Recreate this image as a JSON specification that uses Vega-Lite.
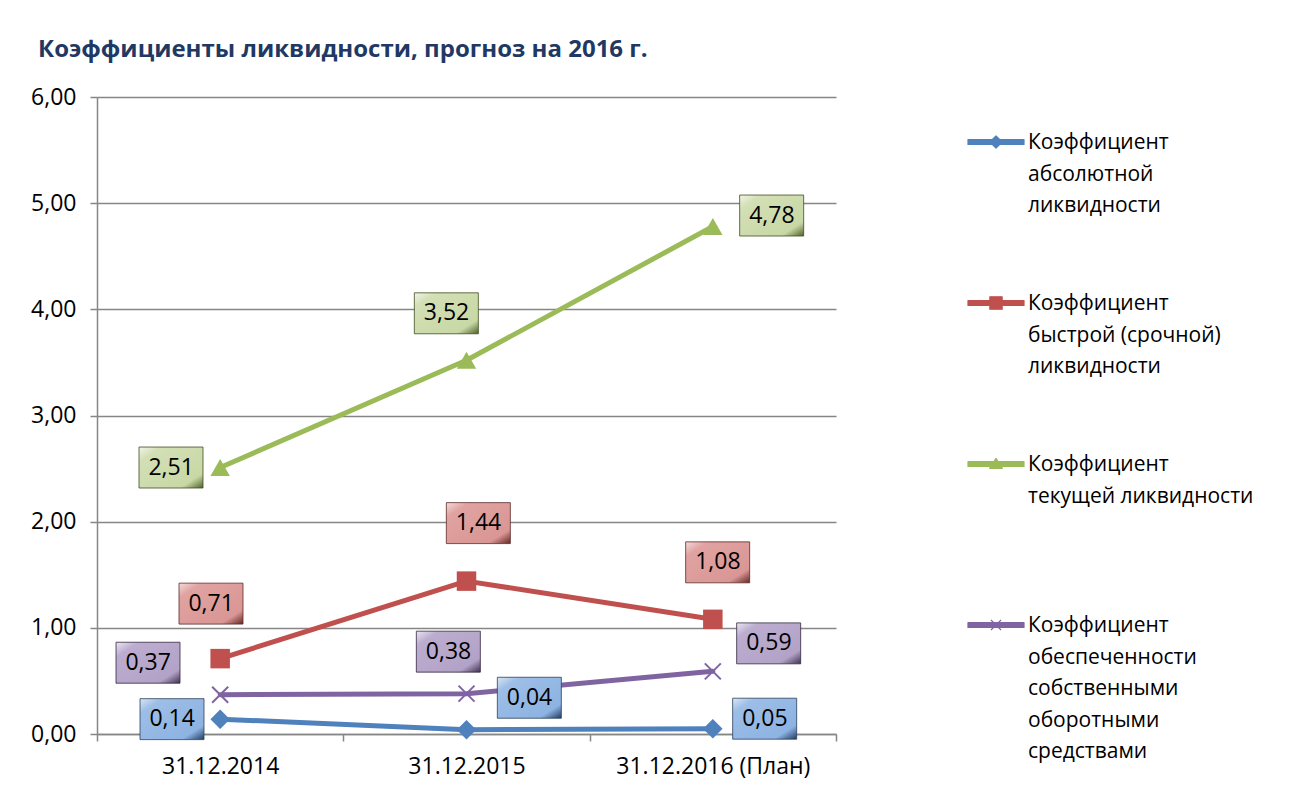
{
  "$schema": "https://vega.github.io/schema/vega-lite/v6.json",
  "width": 739,
  "height": 637,
  "autosize": {"type": "none"},
  "padding": {"left": 97, "top": 97, "right": 469, "bottom": 60},
  "background": "white",
  "config": {
    "locale": {"number": {"decimal": ",", "thousands": " ", "grouping": [3], "currency": ["", " ₽"]}},
    "view": {"stroke": null},
    "font": "Open Sans"
  },
  "title": {
    "text": "Коэффициенты ликвидности, прогноз на 2016 г.",
    "anchor": "start",
    "frame": "group",
    "dx": -59,
    "offset": 5,
    "baseline": "alphabetic",
    "font": "Open Sans",
    "fontSize": 24,
    "fontWeight": "bold",
    "color": "#1F3864"
  },
  "data": {
    "values": [
      {"series": "Коэффициент абсолютной ликвидности", "date": "31.12.2014", "value": 0.14},
      {"series": "Коэффициент абсолютной ликвидности", "date": "31.12.2015", "value": 0.04},
      {"series": "Коэффициент абсолютной ликвидности", "date": "31.12.2016 (План)", "value": 0.05},
      {"series": "Коэффициент быстрой (срочной) ликвидности", "date": "31.12.2014", "value": 0.71},
      {"series": "Коэффициент быстрой (срочной) ликвидности", "date": "31.12.2015", "value": 1.44},
      {"series": "Коэффициент быстрой (срочной) ликвидности", "date": "31.12.2016 (План)", "value": 1.08},
      {"series": "Коэффициент текущей ликвидности", "date": "31.12.2014", "value": 2.51},
      {"series": "Коэффициент текущей ликвидности", "date": "31.12.2015", "value": 3.52},
      {"series": "Коэффициент текущей ликвидности", "date": "31.12.2016 (План)", "value": 4.78},
      {"series": "Коэффициент обеспеченности собственными оборотными средствами", "date": "31.12.2014", "value": 0.37},
      {"series": "Коэффициент обеспеченности собственными оборотными средствами", "date": "31.12.2015", "value": 0.38},
      {"series": "Коэффициент обеспеченности собственными оборотными средствами", "date": "31.12.2016 (План)", "value": 0.59}
    ]
  },
  "encoding": {
    "x": {
      "field": "date", "type": "nominal",
      "sort": ["31.12.2014", "31.12.2015", "31.12.2016 (План)"],
      "scale": {"type": "band", "paddingInner": 0, "paddingOuter": 0},
      "axis": {"title": null, "labelAngle": 0, "labelFont": "Open Sans", "labelFontSize": 23, "labelColor": "#000000", "labelPadding": 14, "labelLimit": 400, "tickBand": "extent", "tickSize": 7, "tickColor": "#868686", "tickWidth": 1.5, "domainColor": "#868686", "domainWidth": 1.5, "grid": false}
    },
    "y": {
      "field": "value", "type": "quantitative",
      "scale": {"domain": [0, 6], "nice": false},
      "axis": {"title": null, "values": [0, 1, 2, 3, 4, 5, 6], "format": ".2f", "labelFont": "Open Sans", "labelFontSize": 23, "labelColor": "#000000", "labelPadding": 14, "tickSize": 7, "tickColor": "#868686", "tickWidth": 1.5, "domainColor": "#868686", "domainWidth": 1.5, "gridColor": "#868686", "gridWidth": 1.5}
    }
  },
  "layer": [
    {
      "mark": {"type": "line", "strokeWidth": 5, "strokeCap": "round", "strokeJoin": "round"},
      "encoding": {
        "color": {
          "field": "series", "type": "nominal",
          "scale": {
            "domain": ["Коэффициент абсолютной ликвидности", "Коэффициент быстрой (срочной) ликвидности", "Коэффициент текущей ликвидности", "Коэффициент обеспеченности собственными оборотными средствами"],
            "range": ["#4F81BD", "#C0504D", "#9BBB59", "#8064A2"]
          },
          "legend": {
            "orient": "none", "legendX": 870, "legendY": 16, "direction": "vertical", "title": null,
            "symbolSize": 3136, "labelFont": "Open Sans", "labelFontSize": 21, "labelColor": "#000000",
            "labelBaseline": "top", "labelOffset": 3, "rowPadding": 26, "labelLimit": 400,
            "labelExpr": "indexof(datum.label,'абсолют')>=0 ? ['Коэффициент','абсолютной','ликвидности',' '] : indexof(datum.label,'быстр')>=0 ? ['Коэффициент','быстрой (срочной)','ликвидности',' '] : indexof(datum.label,'текущ')>=0 ? ['Коэффициент','текущей ликвидности',' ',' '] : ['Коэффициент','обеспеченности','собственными','оборотными','средствами']",
            "encode": {
              "labels": {"update": {"lineHeight": {"value": 31.5}, "dy": {"value": -10}}},
              "symbols": {"update": {
                "shape": {"signal": "indexof(datum.value,'абсолют')>=0 ? 'M-1,-0.09H1V0.09H-1Z M0,-0.22L0.22,0L0,0.22L-0.22,0Z' : indexof(datum.value,'быстр')>=0 ? 'M-1,-0.09H1V0.09H-1Z M-0.22,-0.22H0.22V0.22H-0.22Z' : indexof(datum.value,'текущ')>=0 ? 'M-1,-0.09H1V0.09H-1Z M0,-0.2L0.23,0.16L-0.23,0.16Z' : 'M-1,-0.09H1V0.09H-1Z M-0.18,-0.18L0.18,0.18M-0.18,0.18L0.18,-0.18'"},
                "fill": {"scale": "color", "field": "value"},
                "stroke": {"scale": "color", "field": "value"},
                "strokeWidth": {"value": 1.2},
                "strokeJoin": {"value": "round"},
                "opacity": {"value": 1}
              }}
            }
          }
        }
      }
    },
    {
      "transform": [{"filter": "indexof(datum.series,'обеспеч')<0"}],
      "mark": {"type": "point", "filled": true, "size": 380, "opacity": 1},
      "encoding": {
        "color": {"field": "series", "type": "nominal"},
        "shape": {"field": "series", "type": "nominal", "legend": null,
          "scale": {"domain": ["Коэффициент абсолютной ликвидности", "Коэффициент быстрой (срочной) ликвидности", "Коэффициент текущей ликвидности"], "range": ["diamond", "square", "triangle-up"]}}
      }
    },
    {
      "transform": [{"filter": "indexof(datum.series,'обеспеч')>=0"}],
      "mark": {"type": "point", "filled": false, "shape": "M-1,-1L1,1M-1,1L1,-1", "size": 256, "strokeWidth": 2, "opacity": 1},
      "encoding": {"color": {"field": "series", "type": "nominal"}}
    },
    {"transform": [{"filter": "datum.value==0.14"}], "layer": [
      {"mark": {"type": "point", "shape": "M-1,-0.64H1V0.64H-1Z", "size": 4096, "filled": true, "opacity": 1, "stroke": "#2a3f5c", "strokeWidth": 0.8, "fill": {"gradient": "linear", "x1": 0, "y1": 0, "x2": 1, "y2": 1, "stops": [{"offset": 0, "color": "#dce6f2"}, {"offset": 0.18, "color": "#9dbee6"}, {"offset": 0.82, "color": "#8db3e2"}, {"offset": 1, "color": "#1f3b60"}]}}, "encoding": {"xOffset": {"value": 75}, "yOffset": {"value": 0}}},
      {"mark": {"type": "text", "font": "Open Sans", "fontSize": 23, "color": "#000000", "align": "center", "baseline": "middle", "dx": -48, "dy": 0}, "encoding": {"text": {"field": "value", "type": "quantitative", "format": ".2f"}}}
    ]},
    {"transform": [{"filter": "datum.value==0.04"}], "layer": [
      {"mark": {"type": "point", "shape": "M-1,-0.64H1V0.64H-1Z", "size": 4096, "filled": true, "opacity": 1, "stroke": "#2a3f5c", "strokeWidth": 0.8, "fill": {"gradient": "linear", "x1": 0, "y1": 0, "x2": 1, "y2": 1, "stops": [{"offset": 0, "color": "#dce6f2"}, {"offset": 0.18, "color": "#9dbee6"}, {"offset": 0.82, "color": "#8db3e2"}, {"offset": 1, "color": "#1f3b60"}]}}, "encoding": {"xOffset": {"value": 186}, "yOffset": {"value": -32}}},
      {"mark": {"type": "text", "font": "Open Sans", "fontSize": 23, "color": "#000000", "align": "center", "baseline": "middle", "dx": 63, "dy": -32}, "encoding": {"text": {"field": "value", "type": "quantitative", "format": ".2f"}}}
    ]},
    {"transform": [{"filter": "datum.value==0.05"}], "layer": [
      {"mark": {"type": "point", "shape": "M-1,-0.64H1V0.64H-1Z", "size": 4096, "filled": true, "opacity": 1, "stroke": "#2a3f5c", "strokeWidth": 0.8, "fill": {"gradient": "linear", "x1": 0, "y1": 0, "x2": 1, "y2": 1, "stops": [{"offset": 0, "color": "#dce6f2"}, {"offset": 0.18, "color": "#9dbee6"}, {"offset": 0.82, "color": "#8db3e2"}, {"offset": 1, "color": "#1f3b60"}]}}, "encoding": {"xOffset": {"value": 175}, "yOffset": {"value": -10}}},
      {"mark": {"type": "text", "font": "Open Sans", "fontSize": 23, "color": "#000000", "align": "center", "baseline": "middle", "dx": 52, "dy": -10}, "encoding": {"text": {"field": "value", "type": "quantitative", "format": ".2f"}}}
    ]},
    {"transform": [{"filter": "datum.value==0.71"}], "layer": [
      {"mark": {"type": "point", "shape": "M-1,-0.64H1V0.64H-1Z", "size": 4096, "filled": true, "opacity": 1, "stroke": "#5c2a29", "strokeWidth": 0.8, "fill": {"gradient": "linear", "x1": 0, "y1": 0, "x2": 1, "y2": 1, "stops": [{"offset": 0, "color": "#f2dcdb"}, {"offset": 0.18, "color": "#e0a3a1"}, {"offset": 0.82, "color": "#d99694"}, {"offset": 1, "color": "#632523"}]}}, "encoding": {"xOffset": {"value": 114}, "yOffset": {"value": -55}}},
      {"mark": {"type": "text", "font": "Open Sans", "fontSize": 23, "color": "#000000", "align": "center", "baseline": "middle", "dx": -9, "dy": -55}, "encoding": {"text": {"field": "value", "type": "quantitative", "format": ".2f"}}}
    ]},
    {"transform": [{"filter": "datum.value==1.44"}], "layer": [
      {"mark": {"type": "point", "shape": "M-1,-0.64H1V0.64H-1Z", "size": 4096, "filled": true, "opacity": 1, "stroke": "#5c2a29", "strokeWidth": 0.8, "fill": {"gradient": "linear", "x1": 0, "y1": 0, "x2": 1, "y2": 1, "stops": [{"offset": 0, "color": "#f2dcdb"}, {"offset": 0.18, "color": "#e0a3a1"}, {"offset": 0.82, "color": "#d99694"}, {"offset": 1, "color": "#632523"}]}}, "encoding": {"xOffset": {"value": 135}, "yOffset": {"value": -58}}},
      {"mark": {"type": "text", "font": "Open Sans", "fontSize": 23, "color": "#000000", "align": "center", "baseline": "middle", "dx": 12, "dy": -58}, "encoding": {"text": {"field": "value", "type": "quantitative", "format": ".2f"}}}
    ]},
    {"transform": [{"filter": "datum.value==1.08"}], "layer": [
      {"mark": {"type": "point", "shape": "M-1,-0.64H1V0.64H-1Z", "size": 4096, "filled": true, "opacity": 1, "stroke": "#5c2a29", "strokeWidth": 0.8, "fill": {"gradient": "linear", "x1": 0, "y1": 0, "x2": 1, "y2": 1, "stops": [{"offset": 0, "color": "#f2dcdb"}, {"offset": 0.18, "color": "#e0a3a1"}, {"offset": 0.82, "color": "#d99694"}, {"offset": 1, "color": "#632523"}]}}, "encoding": {"xOffset": {"value": 128}, "yOffset": {"value": -57}}},
      {"mark": {"type": "text", "font": "Open Sans", "fontSize": 23, "color": "#000000", "align": "center", "baseline": "middle", "dx": 5, "dy": -57}, "encoding": {"text": {"field": "value", "type": "quantitative", "format": ".2f"}}}
    ]},
    {"transform": [{"filter": "datum.value==2.51"}], "layer": [
      {"mark": {"type": "point", "shape": "M-1,-0.64H1V0.64H-1Z", "size": 4096, "filled": true, "opacity": 1, "stroke": "#3f4d20", "strokeWidth": 0.8, "fill": {"gradient": "linear", "x1": 0, "y1": 0, "x2": 1, "y2": 1, "stops": [{"offset": 0, "color": "#f1f5e8"}, {"offset": 0.18, "color": "#d3dfb5"}, {"offset": 0.82, "color": "#c8d8a5"}, {"offset": 1, "color": "#4f6228"}]}}, "encoding": {"xOffset": {"value": 74}, "yOffset": {"value": 0}}},
      {"mark": {"type": "text", "font": "Open Sans", "fontSize": 23, "color": "#000000", "align": "center", "baseline": "middle", "dx": -49, "dy": 0}, "encoding": {"text": {"field": "value", "type": "quantitative", "format": ".2f"}}}
    ]},
    {"transform": [{"filter": "datum.value==3.52"}], "layer": [
      {"mark": {"type": "point", "shape": "M-1,-0.64H1V0.64H-1Z", "size": 4096, "filled": true, "opacity": 1, "stroke": "#3f4d20", "strokeWidth": 0.8, "fill": {"gradient": "linear", "x1": 0, "y1": 0, "x2": 1, "y2": 1, "stops": [{"offset": 0, "color": "#f1f5e8"}, {"offset": 0.18, "color": "#d3dfb5"}, {"offset": 0.82, "color": "#c8d8a5"}, {"offset": 1, "color": "#4f6228"}]}}, "encoding": {"xOffset": {"value": 103}, "yOffset": {"value": -47}}},
      {"mark": {"type": "text", "font": "Open Sans", "fontSize": 23, "color": "#000000", "align": "center", "baseline": "middle", "dx": -20, "dy": -47}, "encoding": {"text": {"field": "value", "type": "quantitative", "format": ".2f"}}}
    ]},
    {"transform": [{"filter": "datum.value==4.78"}], "layer": [
      {"mark": {"type": "point", "shape": "M-1,-0.64H1V0.64H-1Z", "size": 4096, "filled": true, "opacity": 1, "stroke": "#3f4d20", "strokeWidth": 0.8, "fill": {"gradient": "linear", "x1": 0, "y1": 0, "x2": 1, "y2": 1, "stops": [{"offset": 0, "color": "#f1f5e8"}, {"offset": 0.18, "color": "#d3dfb5"}, {"offset": 0.82, "color": "#c8d8a5"}, {"offset": 1, "color": "#4f6228"}]}}, "encoding": {"xOffset": {"value": 182}, "yOffset": {"value": -11}}},
      {"mark": {"type": "text", "font": "Open Sans", "fontSize": 23, "color": "#000000", "align": "center", "baseline": "middle", "dx": 59, "dy": -11}, "encoding": {"text": {"field": "value", "type": "quantitative", "format": ".2f"}}}
    ]},
    {"transform": [{"filter": "datum.value==0.37"}], "layer": [
      {"mark": {"type": "point", "shape": "M-1,-0.64H1V0.64H-1Z", "size": 4096, "filled": true, "opacity": 1, "stroke": "#32273f", "strokeWidth": 0.8, "fill": {"gradient": "linear", "x1": 0, "y1": 0, "x2": 1, "y2": 1, "stops": [{"offset": 0, "color": "#ebe6f1"}, {"offset": 0.18, "color": "#bcadd0"}, {"offset": 0.82, "color": "#b3a2c7"}, {"offset": 1, "color": "#3f3151"}]}}, "encoding": {"xOffset": {"value": 51}, "yOffset": {"value": -32}}},
      {"mark": {"type": "text", "font": "Open Sans", "fontSize": 23, "color": "#000000", "align": "center", "baseline": "middle", "dx": -72, "dy": -32}, "encoding": {"text": {"field": "value", "type": "quantitative", "format": ".2f"}}}
    ]},
    {"transform": [{"filter": "datum.value==0.38"}], "layer": [
      {"mark": {"type": "point", "shape": "M-1,-0.64H1V0.64H-1Z", "size": 4096, "filled": true, "opacity": 1, "stroke": "#32273f", "strokeWidth": 0.8, "fill": {"gradient": "linear", "x1": 0, "y1": 0, "x2": 1, "y2": 1, "stops": [{"offset": 0, "color": "#ebe6f1"}, {"offset": 0.18, "color": "#bcadd0"}, {"offset": 0.82, "color": "#b3a2c7"}, {"offset": 1, "color": "#3f3151"}]}}, "encoding": {"xOffset": {"value": 105}, "yOffset": {"value": -42}}},
      {"mark": {"type": "text", "font": "Open Sans", "fontSize": 23, "color": "#000000", "align": "center", "baseline": "middle", "dx": -18, "dy": -42}, "encoding": {"text": {"field": "value", "type": "quantitative", "format": ".2f"}}}
    ]},
    {"transform": [{"filter": "datum.value==0.59"}], "layer": [
      {"mark": {"type": "point", "shape": "M-1,-0.64H1V0.64H-1Z", "size": 4096, "filled": true, "opacity": 1, "stroke": "#32273f", "strokeWidth": 0.8, "fill": {"gradient": "linear", "x1": 0, "y1": 0, "x2": 1, "y2": 1, "stops": [{"offset": 0, "color": "#ebe6f1"}, {"offset": 0.18, "color": "#bcadd0"}, {"offset": 0.82, "color": "#b3a2c7"}, {"offset": 1, "color": "#3f3151"}]}}, "encoding": {"xOffset": {"value": 179}, "yOffset": {"value": -28}}},
      {"mark": {"type": "text", "font": "Open Sans", "fontSize": 23, "color": "#000000", "align": "center", "baseline": "middle", "dx": 56, "dy": -28}, "encoding": {"text": {"field": "value", "type": "quantitative", "format": ".2f"}}}
    ]}
  ]
}
